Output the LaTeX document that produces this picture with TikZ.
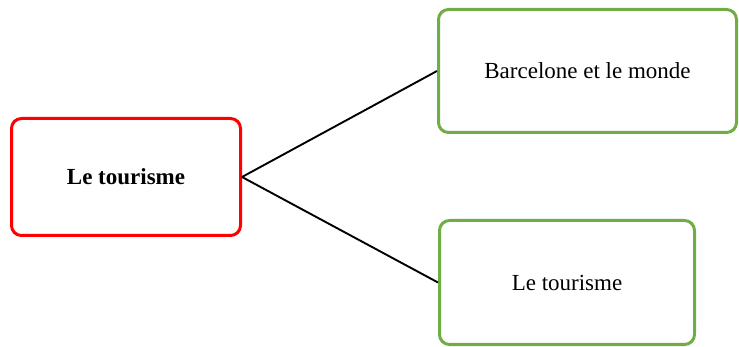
\documentclass[tikz,border=0pt]{standalone}
\usepackage{fontspec}
\setmainfont{Liberation Serif}
\definecolor{boxred}{HTML}{FF0000}
\definecolor{boxgreen}{HTML}{70AD47}
\begin{document}
\begin{tikzpicture}[x=1pt,y=-1pt,
  basebox/.style={draw, rounded corners=10pt, line width=3pt, fill=white, align=center, font=\fontsize{23}{27}\selectfont, inner sep=0pt},
  rootbox/.style={basebox, draw=boxred, font=\fontsize{23}{27}\selectfont\bfseries},
  leafbox/.style={basebox, draw=boxgreen},
  link/.style={line width=1.9pt, black}]
\useasboundingbox (0,0) rectangle (739,347);
\node[rootbox, minimum width=229pt, minimum height=117pt] (root) at (126,177) {Le tourisme};
\node[leafbox, minimum width=298pt, minimum height=123pt] (top) at (587.5,71) {Barcelone et le monde};
\node[leafbox, minimum width=255pt, minimum height=124pt] (bot) at (567,282.5) {Le tourisme};
\draw[link] (root.east) -- (top.west);
\draw[link] (root.east) -- (bot.west);
\end{tikzpicture}
\end{document}
